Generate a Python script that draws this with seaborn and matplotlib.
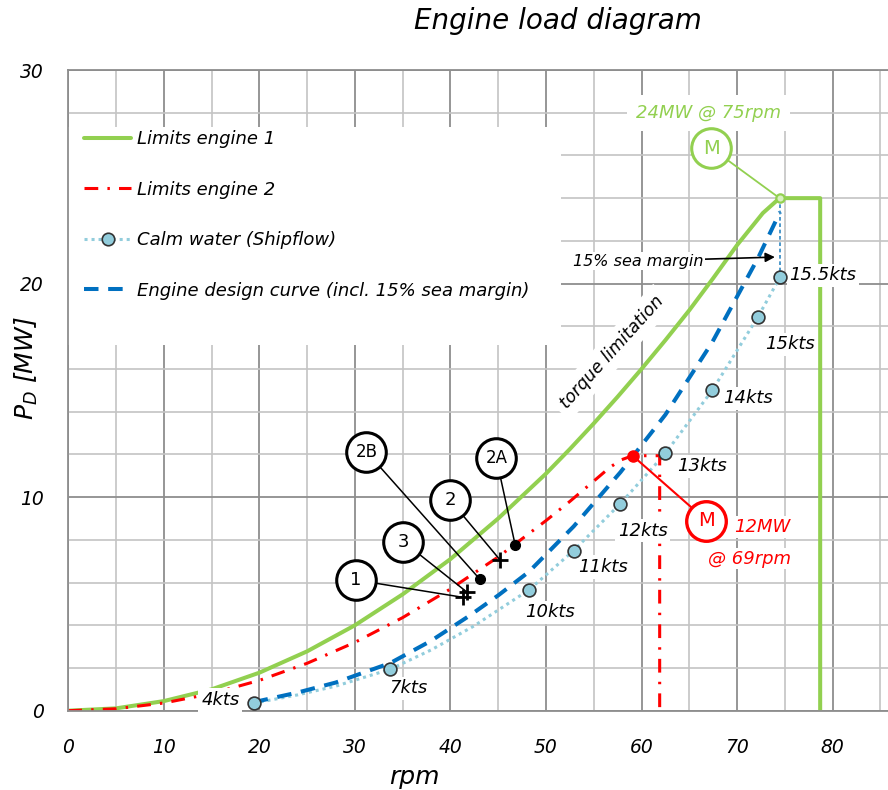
import matplotlib
matplotlib.use("Agg")
import matplotlib.pyplot as plt
import seaborn as sns
import pandas as pd
from matplotlib.lines import Line2D
from matplotlib.patches import Rectangle
from matplotlib.ticker import MultipleLocator

# ---------------- data ----------------
eng1_rpm = [0, 5, 10, 15, 20, 25, 30, 35, 40, 45, 50, 52.5, 55, 57.5, 60, 62.5, 65, 67.5, 70, 72.7, 74.45, 78.7, 78.7]
eng1_pd = [0, 0.11, 0.45, 1.0, 1.78, 2.78, 4.0, 5.45, 7.1, 9.0, 11.1, 12.25, 13.45, 14.7, 16.0, 17.35, 18.75, 20.25, 21.8, 23.3, 24.0, 24.0, 0]

eng2_rpm = [0, 5, 10, 15, 20, 25, 30, 35, 40, 45, 50, 52.5, 55, 56.7, 57.9, 59.07, 61.9, 61.9]
eng2_pd = [0, 0.09, 0.36, 0.8, 1.42, 2.22, 3.2, 4.36, 5.7, 7.2, 8.9, 9.8, 10.75, 11.4, 11.75, 11.94, 11.94, 0]

speed_labels = ["4kts", "7kts", "10kts", "11kts", "12kts", "13kts", "14kts", "15kts", "15.5kts"]
calm_rpm = [19.4, 33.7, 48.2, 52.9, 57.8, 62.5, 67.4, 72.2, 74.5]
calm_pd = [0.35, 1.94, 5.65, 7.5, 9.7, 12.05, 15.0, 18.45, 20.3]

calm_curve_rpm = [19.4, 24, 28, 33.7, 38, 42.4, 48.2, 52.9, 57.8, 62.5, 67.4, 72.2, 74.5]
calm_curve_pd = [0.35, 0.74, 1.15, 1.94, 2.85, 3.95, 5.65, 7.5, 9.7, 12.05, 15.0, 18.45, 20.3]

design_rpm = [19.4, 24, 28, 33.7, 38, 42, 45, 48.2, 52.9, 57.8, 62.5, 67.4, 72.2, 74.5]
design_pd = [0.4, 0.85, 1.32, 2.23, 3.28, 4.45, 5.4, 6.5, 8.63, 11.17, 13.86, 17.25, 21.2, 23.35]

sea_margin_rpm = [74.5, 74.5]
sea_margin_pd = [24.0, 20.3]

point_names = ["1", "2", "3", "2A", "2B"]
point_rpm = [41.28, 45.19, 41.76, 46.78, 43.09]
point_pd = [5.31, 7.06, 5.54, 7.75, 6.15]
point_marker = ["+", "+", "+", "o", "o"]

mcr1_rpm, mcr1_pd = 74.45, 24.0
mcr2_rpm, mcr2_pd = 59.07, 11.94

# ---------------- layout / style ----------------
GREEN = "#92d050"
RED = "#ff0000"
BLUE = "#0070c0"
LBLUE = "#92cddc"
GRID_MAJ = "#8e8e8e"
GRID_MIN = "#c4c4c4"

sns.set_style("white")
plt.rcParams["font.family"] = ["DejaVu Sans"]
plt.rcParams["font.style"] = "italic"
plt.rcParams["mathtext.fontset"] = "dejavusans"
for k in ["text.color", "axes.labelcolor", "xtick.labelcolor", "ytick.labelcolor"]:
    plt.rcParams[k] = "black"

fig = plt.figure(figsize=(8.88, 7.9), dpi=100)
ax = fig.add_axes([68.3 / 888, 1 - 710.7 / 790, (888 - 68.3) / 888, (710.7 - 70) / 790])
ax.set_xlim(0, 85.8)
ax.set_ylim(0, 30)

ax.xaxis.set_major_locator(MultipleLocator(10))
ax.xaxis.set_minor_locator(MultipleLocator(5))
ax.yaxis.set_major_locator(MultipleLocator(10))
ax.yaxis.set_minor_locator(MultipleLocator(2))
ax.set_axisbelow(True)
ax.grid(which="major", color=GRID_MAJ, lw=1.3)
ax.grid(which="minor", color=GRID_MIN, lw=1.2)

ax.spines["right"].set_visible(False)
for s in ["left", "bottom", "top"]:
    ax.spines[s].set_color(GRID_MAJ)
    ax.spines[s].set_linewidth(1.3)

ax.tick_params(axis="x", which="major", direction="out", length=5.5, width=1,
               color=GRID_MAJ, pad=14, labelsize=13.5, labelcolor="black")
ax.tick_params(axis="x", which="minor", length=0)
ax.tick_params(axis="y", which="major", direction="out", length=6.5, width=1,
               color=GRID_MAJ, pad=11, labelsize=13.5, labelcolor="black")
ax.tick_params(axis="y", which="minor", direction="in", length=3.6, width=1, color=GRID_MAJ)

# white box behind the legend
ax.add_patch(Rectangle((0, 0.5708), 0.601, 0.340, transform=ax.transAxes,
                       facecolor="white", edgecolor="none", zorder=1.8))

# ---------------- curves ----------------
sns.lineplot(x=eng1_rpm, y=eng1_pd, ax=ax, color=GREEN, lw=2.9, estimator=None,
             sort=False, label="Limits engine 1", zorder=2.2)
sns.lineplot(x=eng2_rpm, y=eng2_pd, ax=ax, color=RED, lw=2.2, estimator=None,
             sort=False, label="Limits engine 2", linestyle=(0, (4.5, 3.0, 0.8, 3.0)),
             zorder=2.3)
sns.lineplot(x=calm_curve_rpm, y=calm_curve_pd, ax=ax, color=LBLUE, lw=2.2,
             estimator=None, sort=False, label="Calm water (Shipflow)",
             linestyle=(0, (1.0, 1.3)), zorder=2.1)
sns.lineplot(x=design_rpm, y=design_pd, ax=ax, color=BLUE, lw=2.9, estimator=None,
             sort=False, label="Engine design curve (incl. 15% sea margin)",
             linestyle=(0, (3.6, 2.4)), zorder=2.4)
sns.lineplot(x=sea_margin_rpm, y=sea_margin_pd, ax=ax, color="#2e86c1", lw=1.2,
             estimator=None, sort=False, linestyle=(0, (2.2, 1.6)), zorder=2.4)

sns.scatterplot(x=calm_rpm, y=calm_pd, ax=ax, s=85, color=LBLUE, edgecolor="#333333",
                linewidth=1.2, zorder=4)

# speed labels
label_offsets = [(-24, 2.4), (13, -13.7), (15, -16), (21, -12), (16, -19.5),
                 (26, -9.4), (26, -5.8), (23, -20), (31, 1.4)]
for lab, r, p, off in zip(speed_labels, calm_rpm, calm_pd, label_offsets):
    ax.annotate(lab, xy=(r, p), xytext=off, textcoords="offset points",
                ha="center", va="center", fontsize=13, zorder=3,
                bbox=dict(boxstyle="square,pad=0.15", fc="white", ec="none"))

# ---------------- operating points ----------------
circle_centers = [(30.1, 6.12), (39.95, 9.87), (35.06, 7.92), (44.8, 11.82), (31.2, 12.13)]
for name, r, p, mk, (cx, cy) in zip(point_names, point_rpm, point_pd, point_marker, circle_centers):
    ax.annotate("", xy=(r, p), xytext=(cx, cy),
                arrowprops=dict(arrowstyle="-", color="black", lw=1.1,
                                shrinkA=0, shrinkB=0), zorder=5)
    if mk == "+":
        ax.plot([r], [p], marker="+", ms=11, mew=2.0, color="black", zorder=5.5)
    else:
        ax.plot([r], [p], marker="o", ms=7, color="black", zorder=5.5)
    ax.plot([cx], [cy], marker="o", ms=28.5, mfc="white", mec="black", mew=2.2, zorder=6)
    ax.text(cx, cy, name, ha="center", va="center", fontsize=13 if len(name) == 1 else 12,
            fontstyle="normal", zorder=7)

# MCR engine 1
m1c = (67.3, 26.34)
ax.annotate("", xy=(mcr1_rpm, mcr1_pd), xytext=m1c,
            arrowprops=dict(arrowstyle="-", color=GREEN, lw=1.3, shrinkA=0, shrinkB=0), zorder=5)
ax.plot([mcr1_rpm], [mcr1_pd], marker="o", ms=6, mfc="#d8f0c0", mec=GREEN, mew=1.6, zorder=5.5)
ax.plot([m1c[0]], [m1c[1]], marker="o", ms=28.5, mfc="white", mec=GREEN, mew=2.2, zorder=6)
ax.text(m1c[0], m1c[1], "M", ha="center", va="center", fontsize=14, color=GREEN,
        fontstyle="normal", zorder=7)
ax.text(67.0, 27.98, "24MW @ 75rpm", ha="center", va="center", fontsize=13, color=GREEN,
        zorder=3, bbox=dict(boxstyle="square,pad=0.5", fc="white", ec="none"))

# MCR engine 2
m2c = (66.8, 8.9)
ax.annotate("", xy=(mcr2_rpm, mcr2_pd), xytext=m2c,
            arrowprops=dict(arrowstyle="-", color=RED, lw=1.5, shrinkA=0, shrinkB=0), zorder=5)
ax.plot([mcr2_rpm], [mcr2_pd], marker="o", ms=8, color=RED, zorder=5.5)
ax.plot([m2c[0]], [m2c[1]], marker="o", ms=28.5, mfc="white", mec=RED, mew=2.4, zorder=6)
ax.text(m2c[0], m2c[1], "M", ha="center", va="center", fontsize=14, color=RED,
        fontstyle="normal", zorder=7)
ax.text(75.6, 8.6, "12MW", ha="right", va="center", fontsize=13, color=RED, zorder=3,
        bbox=dict(boxstyle="square,pad=0.1", fc="white", ec="none"))
ax.text(75.6, 7.12, "@ 69rpm", ha="right", va="center", fontsize=13, color=RED, zorder=3,
        bbox=dict(boxstyle="square,pad=0.1", fc="white", ec="none"))

# sea margin arrow
ax.annotate("15% sea margin", xy=(73.96, 21.24), xytext=(66.5, 21.05),
            ha="right", va="center", fontsize=11.5, zorder=3,
            bbox=dict(boxstyle="square,pad=0.1", fc="white", ec="none"),
            arrowprops=dict(arrowstyle="-|>", color="black", lw=1.2, shrinkA=0,
                            shrinkB=0, mutation_scale=14))

# torque limitation
ax.text(56.87, 16.78, "torque limitation", rotation=47.9, rotation_mode="anchor",
        ha="center", va="center", fontsize=12.5, zorder=3,
        bbox=dict(boxstyle="square,pad=0.35", fc="white", ec="none"))

# ---------------- legend ----------------
handles, labels = ax.get_legend_handles_labels()
new_handles = []
for h, l in zip(handles, labels):
    if l.startswith("Calm"):
        new_handles.append(Line2D([], [], color=LBLUE, lw=2.2, linestyle=(0, (1.0, 1.3)),
                                  marker="o", ms=9, mfc=LBLUE, mec="#333333", mew=1.2))
    else:
        new_handles.append(h)
leg = ax.legend(new_handles, labels, loc="upper left", bbox_to_anchor=(0.0192, 0.906),
                frameon=False, fontsize=13, handlelength=2.6, handletextpad=0.35,
                labelspacing=1.8, borderpad=0, borderaxespad=0, numpoints=1,
                labelcolor="black")
leg.set_zorder(8)

# ---------------- labels ----------------
ax.set_xlabel("rpm", fontsize=18, color="black")
ax.xaxis.set_label_coords(0.4224, -0.084)
ax.set_ylabel(r"$P_D$ [MW]", fontsize=18, color="black")
ax.yaxis.set_label_coords(-0.035, 0.535)

fig.text(557.5 / 888, 1 - 21 / 790, "Engine load diagram", fontsize=20,
         ha="center", va="center", color="black")

fig.savefig("out.png", dpi=100)
